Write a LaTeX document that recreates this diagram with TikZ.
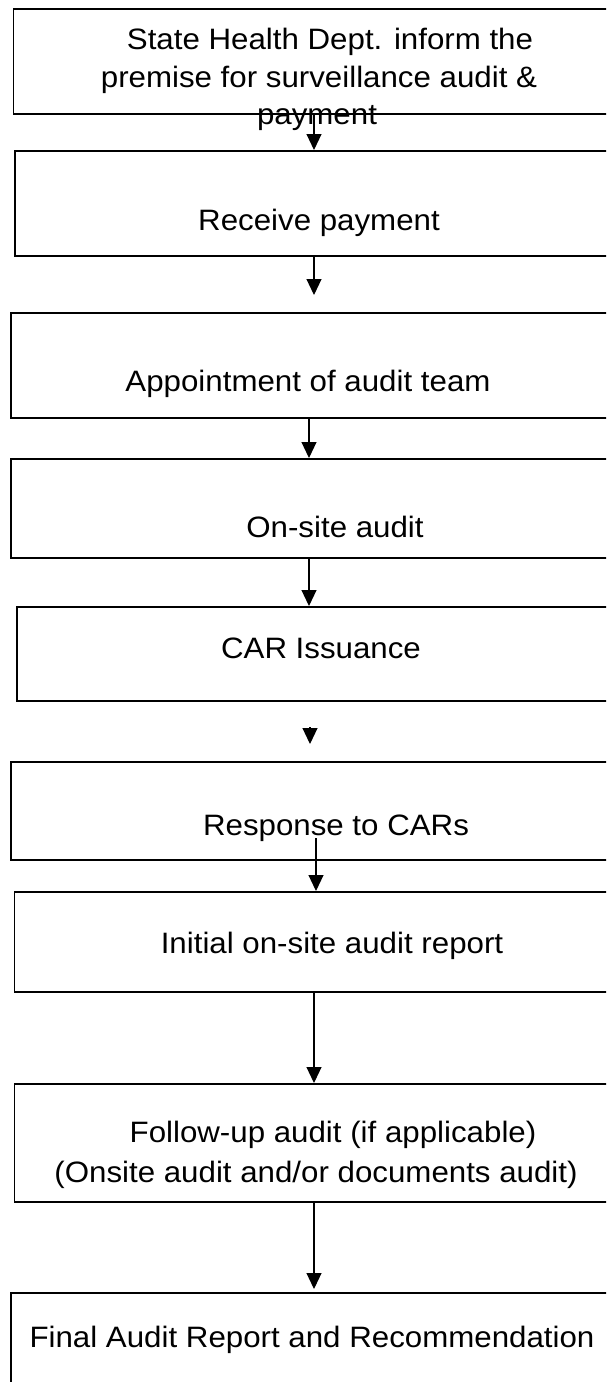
\documentclass[tikz,border=0pt]{standalone}
\usepackage{fontspec}
\setmainfont{Liberation Sans}[FakeStretch=1.06]
\usetikzlibrary{arrows.meta}
\begin{document}
\begin{tikzpicture}[x=1pt,y=-1pt,
  box/.style={draw=black, line width=1.5pt, rectangle, anchor=north west, inner sep=0pt, minimum width=700pt},
  lbl/.style={anchor=base, inner sep=0pt, font=\fontsize{29.5}{38}\selectfont},
  arr/.style={-{Triangle[length=16pt,width=15pt]}, line width=1.1pt}]
\useasboundingbox (0,0) rectangle (606,1382);
\fill[white] (0,0) rectangle (606,1382);
\clip (0,0) rectangle (606,1382);
% boxes
\node[box, minimum height=104.7pt] (b1) at (12.7,8.3) {};
\node[box, minimum height=105pt] (b2) at (14,150) {};
\node[box, minimum height=105pt] (b3) at (10,312) {};
\node[box, minimum height=99pt] (b4) at (10,458) {};
\node[box, minimum height=94pt] (b5) at (16,606) {};
\node[box, minimum height=98pt] (b6) at (10,761) {};
\node[box, minimum height=100pt] (b7) at (13.5,891) {};
\node[box, minimum height=118pt] (b8) at (13.5,1083) {};
\node[box, minimum height=150pt] (b9) at (10,1292) {};
% texts
\node[lbl] (t1a) at (330,49) {State Health Dept. inform the};
\node[lbl] (t1b) at (319,87) {premise for surveillance audit \&};
\node[lbl] (t1c) at (317,124) {payment};
\node[lbl] (t2) at (319,230) {Receive payment};
\node[lbl] (t3) at (308,391) {Appointment of audit team};
\node[lbl] (t4) at (335,537) {On-site audit};
\node[lbl] (t5) at (321,658) {CAR Issuance};
\node[lbl] (t6) at (336,835) {Response to CARs};
\node[lbl] (t7) at (332,953) {Initial on-site audit report};
\node[lbl] (t8a) at (333,1142) {Follow-up audit (if applicable)};
\node[lbl] (t8b) at (316,1182) {(Onsite audit and/or documents audit)};
\node[lbl] (t9) at (312,1347) {Final Audit Report and Recommendation};
% arrow anchors
\coordinate (x1) at (314,0);
\coordinate (x3) at (309,0);
\coordinate (e2) at (314,295);
\coordinate (s5) at (310,727);
\coordinate (e5) at (310,744);
\coordinate (s6) at (316,838);
\coordinate (e8) at (314,1289);
% arrows
\draw[arr] (b1.south -| x1) -- (b2.north -| x1);
\draw[arr] (b2.south -| x1) -- (e2);
\draw[arr] (b3.south -| x3) -- (b4.north -| x3);
\draw[arr] (b4.south -| x3) -- (b5.north -| x3);
\draw[arr] (s5) -- (e5);
\draw[arr] (s6) -- (b7.north -| s6);
\draw[arr] (b7.south -| x1) -- (b8.north -| x1);
\draw[arr] (b8.south -| x1) -- (e8);
\end{tikzpicture}
\end{document}
